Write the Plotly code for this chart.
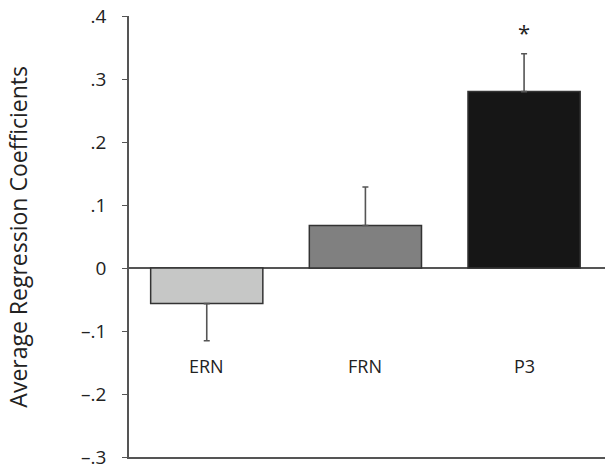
import plotly.graph_objects as go

categories = ["ERN", "FRN", "P3"]
values = [-0.0565, 0.0675, 0.28]
err_plus = [0.0, 0.061, 0.060]
err_minus = [0.059, 0.0, 0.0]
bar_colors = ["#c6c7c6", "#808080", "#161616"]
tick_vals = [0.4, 0.3, 0.2, 0.1, 0.0, -0.1, -0.2, -0.3]
tick_text = [".4", ".3", ".2", ".1", "0", "\u2013.1", "\u2013.2", "\u2013.3"]
y_title = "Average Regression Coefficients"
sig_marks = ["", "", "*"]

FONT = "Open Sans"
TXT = "#222222"
AX = "#555555"

xs = list(range(len(categories)))

fig = go.Figure()
fig.add_trace(go.Bar(
    x=xs, y=values, width=0.707,
    marker=dict(color=bar_colors, line=dict(color="#333333", width=1.5)),
    error_y=dict(type="data", array=err_plus, arrayminus=err_minus, symmetric=False,
                 color=AX, thickness=1.6, width=3),
    showlegend=False, hoverinfo="skip",
))

annotations = []
for i, c in enumerate(categories):
    annotations.append(dict(x=xs[i], y=-0.155, xref="x", yref="y", text=c, showarrow=False,
                            font=dict(family=FONT, size=18, color=TXT),
                            xanchor="center", yanchor="middle"))
for i, s in enumerate(sig_marks):
    if s:
        annotations.append(dict(x=xs[i], y=0.375, xref="x", yref="y", text=s, showarrow=False,
                                font=dict(family=FONT, size=22, color=TXT),
                                xanchor="center", yanchor="middle"))
annotations.append(dict(x=-0.235, y=0.5, xref="paper", yref="paper", xanchor="center", yanchor="middle",
                        text=y_title, textangle=-90, showarrow=False,
                        font=dict(family=FONT, size=23, color=TXT)))

fig.update_layout(
    width=605, height=469,
    margin=dict(l=129, r=0, t=16, b=12, autoexpand=False),
    paper_bgcolor="white", plot_bgcolor="white",
    annotations=annotations,
    font=dict(family=FONT, size=18, color=TXT),
)
fig.update_xaxes(range=[-0.49, 2.51], showticklabels=False, ticks="", showgrid=False,
                 zeroline=False, showline=True, linecolor=AX, linewidth=1.5, automargin=False)
fig.update_yaxes(range=[-0.3, 0.4], tickvals=tick_vals, ticktext=tick_text,
                 ticks="outside", ticklen=5, tickcolor=AX, tickwidth=1.2,
                 ticklabelstandoff=12, automargin=False, ticklabeloverflow="allow",
                 showgrid=False, zeroline=True, zerolinecolor=AX, zerolinewidth=1.5,
                 showline=True, linecolor=AX, linewidth=1.5,
                 tickfont=dict(family=FONT, size=19, color=TXT))

# remove the browser's default 8px body margin so the figure fills the window
fig.write_html("out.html", config={"displayModeBar": False},
               post_script="document.body.style.margin='0';document.body.style.overflow='hidden';")
